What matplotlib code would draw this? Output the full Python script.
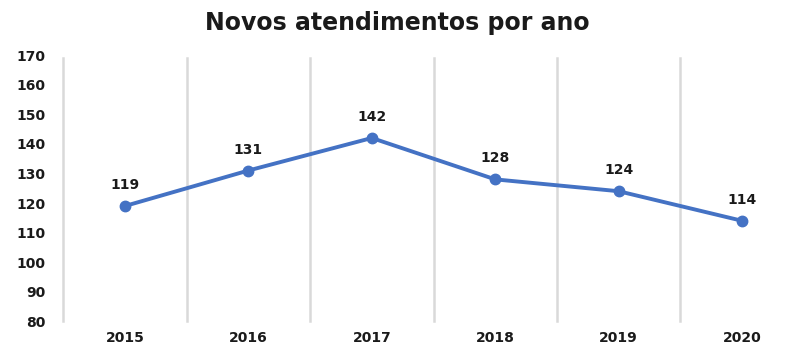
import matplotlib
matplotlib.use("Agg")
import matplotlib.pyplot as plt

years = ["2015", "2016", "2017", "2018", "2019", "2020"]
atendimentos = [119, 131, 142, 128, 124, 114]
y_ticks = [80, 90, 100, 110, 120, 130, 140, 150, 160, 170]

W, H = 794, 350
fig = plt.figure(figsize=(W / 100, H / 100), dpi=100)
left, right = 63.3, 803.7
bottom, top = 321.3, 55.2
ax = fig.add_axes([left / W, (H - bottom) / H, (right - left) / W, (bottom - top) / H])

x = list(range(len(years)))
line_color = "#4472C4"
text_color = "#1a1a1a"

ax.plot(x, atendimentos, color=line_color, lw=2.8, marker="o", ms=7.5,
        markerfacecolor=line_color, markeredgecolor=line_color, zorder=3,
        solid_capstyle="round")

for xi, v in zip(x, atendimentos):
    ax.annotate(str(v), (xi, v), xytext=(0, 10), textcoords="offset points",
                ha="center", va="bottom", fontsize=10, fontweight="bold",
                color=text_color, family="DejaVu Sans")

ax.set_xlim(-0.5, len(years) - 0.5)
ax.set_ylim(80, 170)
ax.set_yticks(y_ticks)
ax.set_yticklabels([str(t) for t in y_ticks])
ax.set_xticks(x)
ax.set_xticklabels(years)

# vertical category separators
for b in [i - 0.5 for i in range(len(years) + 1)]:
    ax.axvline(b, ymin=0.0, ymax=0.99, color="#D9D9D9", lw=1.8, zorder=1,
               clip_on=False)

for s in ax.spines.values():
    s.set_visible(False)
ax.tick_params(axis="both", length=0, labelsize=10, colors=text_color)
ax.tick_params(axis="y", pad=13)
ax.tick_params(axis="x", pad=7)
for lab in ax.get_xticklabels() + ax.get_yticklabels():
    lab.set_fontweight("bold")

fig.text(0.5, 1 - 23 / H, "Novos atendimentos por ano", ha="center", va="center",
         fontsize=17, fontweight="bold", color=text_color)

fig.savefig("out.png", dpi=100, facecolor="white")
